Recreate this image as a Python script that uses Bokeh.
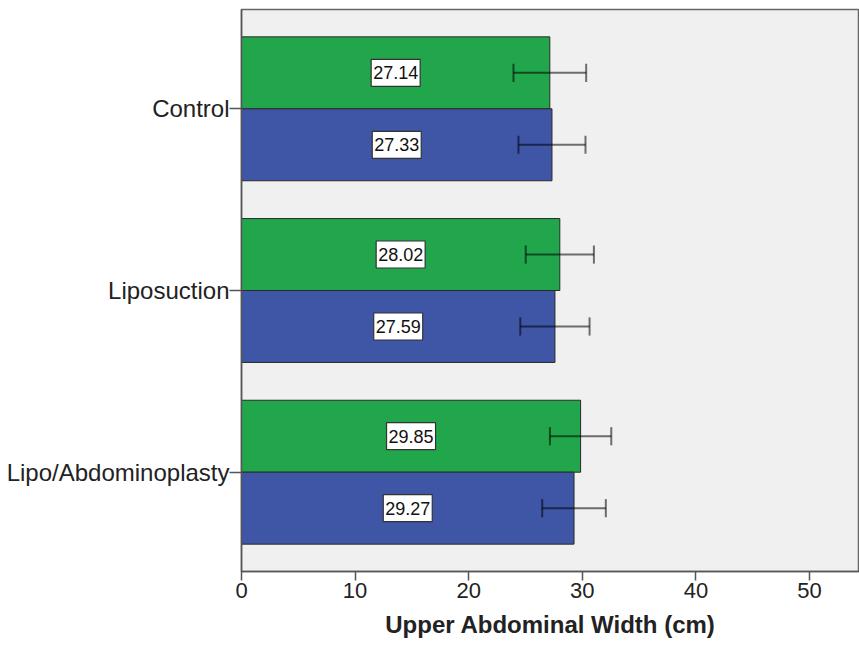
from bokeh.plotting import figure
from bokeh.models import ColumnDataSource, FactorRange, Range1d, FixedTicker
from bokeh.transform import dodge
from bokeh.core.properties import value
from bokeh.embed import file_html
from bokeh.resources import INLINE

# ---- data ----
groups = ["Control", "Liposuction", "Lipo/Abdominoplasty"]
green_vals = [27.14, 28.02, 29.85]
blue_vals = [27.33, 27.59, 29.27]
green_err = [3.2, 3.0, 2.7]
blue_err = [2.95, 3.05, 2.8]
x_ticks = [0, 10, 20, 30, 40, 50]

GREEN = "#22a64b"
BLUE = "#3f55a5"
FONT = "Liberation Sans"

factors = list(reversed(groups))

p = figure(
    y_range=FactorRange(factors=factors, range_padding=0.0465, range_padding_units="absolute"),
    x_range=Range1d(0, 54.4),
    frame_width=618, frame_height=562,
    min_border_left=241, min_border_right=0, min_border_top=9, min_border_bottom=40,
    output_backend="svg", toolbar_location=None,
)

src = ColumnDataSource(dict(
    cat=groups,
    green=green_vals,
    blue=blue_vals,
    g_lo=[v - e for v, e in zip(green_vals, green_err)],
    g_hi=[v + e for v, e in zip(green_vals, green_err)],
    b_lo=[v - e for v, e in zip(blue_vals, blue_err)],
    b_hi=[v + e for v, e in zip(blue_vals, blue_err)],
    g_mid=[v / 2 for v in green_vals],
    b_mid=[v / 2 for v in blue_vals],
    g_lab=[f"{v:.2f}" for v in green_vals],
    b_lab=[f"{v:.2f}" for v in blue_vals],
))

off = 0.198
bh = 0.396
cap = 0.05

for col, o, color, lo, hi, mid, lab in [
    ("green", off, GREEN, "g_lo", "g_hi", "g_mid", "g_lab"),
    ("blue", -off, BLUE, "b_lo", "b_hi", "b_mid", "b_lab"),
]:
    yy = dodge("cat", o, range=p.y_range)
    p.hbar(y=yy, right=col, left=0, height=bh,
           source=src, fill_color=color, line_color="#2a2a2a", line_width=1)
    # error bars
    p.segment(x0=lo, x1=hi, y0=yy, y1=yy,
              source=src, line_color="black", line_alpha=0.55, line_width=2)
    for end in (lo, hi):
        p.segment(x0=end, x1=end, y0=dodge("cat", o - cap, range=p.y_range),
                  y1=dodge("cat", o + cap, range=p.y_range),
                  source=src, line_color="black", line_alpha=0.55, line_width=2)
    # value labels (white boxes)
    p.rect(x=mid, y=yy, width=49, height=27, width_units="screen", height_units="screen",
           source=src, fill_color="white", line_color="#333333", line_width=1.2)
    p.text(x=mid, y=yy, text=lab, source=src,
           text_align="center", text_baseline="middle",
           text_font=value(FONT), text_font_size="18px", text_color="#111111")

p.background_fill_color = "#f0f0f0"
p.border_fill_color = "white"
p.outline_line_color = "#666666"
p.outline_line_width = 1.5
p.xgrid.visible = False
p.ygrid.visible = False

p.xaxis.ticker = FixedTicker(ticks=x_ticks)
p.xaxis.minor_tick_line_color = None
p.xaxis.major_tick_out = 9
p.xaxis.major_tick_in = 0
p.xaxis.major_label_standoff = 2
p.xaxis.major_label_text_font = FONT
p.xaxis.major_label_text_font_size = "22px"
p.xaxis.major_label_text_color = "#222222"
p.xaxis.axis_label = "Upper Abdominal Width (cm)"
p.xaxis.axis_label_text_font = FONT
p.xaxis.axis_label_text_font_style = "bold"
p.xaxis.axis_label_text_font_size = "24px"
p.xaxis.axis_label_text_color = "#222222"
p.xaxis.axis_label_standoff = 10

p.yaxis.major_tick_out = 12
p.yaxis.major_tick_in = 0
p.yaxis.major_label_standoff = 0
p.yaxis.major_label_text_font = FONT
p.yaxis.major_label_text_font_size = "24px"
p.yaxis.major_label_text_color = "#222222"

for ax in (p.xaxis, p.yaxis):
    ax.axis_line_color = "#555555"
    ax.axis_line_width = 1.5
    ax.major_tick_line_color = "#555555"
    ax.major_tick_line_width = 1.5

open("out.html", "w").write(file_html(p, INLINE))
